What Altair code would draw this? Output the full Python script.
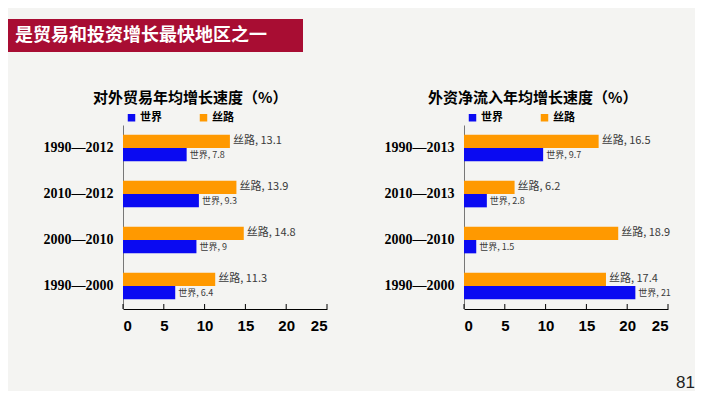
import altair as alt
import pandas as pd

# ---------------- data ----------------
banner_text = ["是贸易和投资增长最快地区之一"]
page_number = ["81"]
series = ["世界", "丝路"]
series_colors = ["#0a0af2", "#ff9900"]
x_ticks = [0, 5, 10, 15, 20, 25]

trade_title = ["对外贸易年均增长速度（%）"]
trade_periods = ["1990—2012", "2010—2012", "2000—2010", "1990—2000"]
trade_silk = [13.1, 13.9, 14.8, 11.3]
trade_world = [7.8, 9.3, 9, 6.4]

fdi_title = ["外资净流入年均增长速度（%）"]
fdi_periods = ["1990—2013", "2010—2013", "2000—2010", "1990—2000"]
fdi_silk = [16.5, 6.2, 18.9, 17.4]
fdi_world = [9.7, 2.8, 1.5, 21]

CJK = "Noto Sans CJK SC"
W, H = 204, 184

x_axis = alt.Axis(
    values=x_ticks,
    title=None,
    grid=False,
    ticks=False,
    labelFont="Liberation Sans",
    labelFontSize=15,
    labelFontWeight="bold",
    labelColor="#000000",
    labelPadding=9,
    domainColor="#000000",
)
x_scale = alt.Scale(domain=[0, 25], nice=False)


def panel(periods, silk, world, title, title_dx, title_size, min_ext, extra=()):
    rows = []
    for p, s, w in zip(periods, silk, world):
        rows.append({"period": p, "series": series[1], "value": s, "label": f"{series[1]}, {s:g}"})
        rows.append({"period": p, "series": series[0], "value": w, "label": f"{series[0]}, {w:g}"})
    df = pd.DataFrame(rows)

    base = alt.Chart(df).encode(
        y=alt.Y(
            "period:N",
            sort=periods,
            scale=alt.Scale(paddingInner=0.42, paddingOuter=0.21),
            axis=alt.Axis(
                title=None,
                labelFont="Liberation Serif",
                labelFontSize=14,
                labelFontWeight="bold",
                labelColor="#000000",
                ticks=False,
                domainColor="#777777",
                labelPadding=10,
                minExtent=min_ext,
            ),
        ),
        yOffset=alt.YOffset("series:N", sort=[series[1], series[0]]),
        x=alt.X("value:Q", scale=x_scale, axis=x_axis),
    )

    bars = base.mark_bar().encode(
        color=alt.Color(
            "series:N",
            scale=alt.Scale(domain=series, range=series_colors),
            legend=alt.Legend(
                title=None,
                orient="none",
                legendX=3,
                legendY=-13,
                direction="horizontal",
                symbolType="square",
                symbolSize=56,
                symbolStrokeWidth=0,
                labelFont=CJK,
                labelFontSize=11,
                labelFontWeight="bold",
                labelColor="#000000",
                labelOffset=3,
                columnPadding=36,
            ),
        )
    )

    silk_lbl = base.transform_filter(alt.datum.series == series[1]).mark_text(
        align="left", baseline="middle", dx=3, font=CJK, fontSize=11, color="#3a3a3a"
    ).encode(text="label:N")
    world_lbl = base.transform_filter(alt.datum.series == series[0]).mark_text(
        align="left", baseline="middle", dx=3, font=CJK, fontSize=9, color="#3a3a3a"
    ).encode(text="label:N")

    ticks = alt.Chart(pd.DataFrame({"t": x_ticks})).mark_rule(color="#000000").encode(
        x=alt.X("t:Q", scale=x_scale, axis=x_axis),
        y=alt.value(H - 5),
        y2=alt.value(H),
    )

    ttl = alt.Chart(pd.DataFrame({"t": title})).mark_text(
        align="left", baseline="middle", font=CJK, fontSize=title_size, fontWeight="bold", color="#000000"
    ).encode(text="t:N", x=alt.value(title_dx), y=alt.value(-27))

    return alt.layer(bars, silk_lbl, world_lbl, ticks, ttl, *extra).properties(width=W, height=H)


banner_df = pd.DataFrame({"t": banner_text})
banner_rect = alt.Chart(banner_df).mark_rect(color="#a80d33").encode(
    x=alt.value(-115), x2=alt.value(180), y=alt.value(-106), y2=alt.value(-73)
)
banner_txt = alt.Chart(banner_df).mark_text(
    align="left", baseline="middle", font=CJK, fontSize=18, fontWeight="bold", color="#ffffff"
).encode(text="t:N", x=alt.value(-108), y=alt.value(-89))

page_num = alt.Chart(pd.DataFrame({"p": page_number})).mark_text(
    align="right", baseline="middle", font="Liberation Sans", fontSize=17, color="#222222"
).encode(text="p:N", x=alt.value(231), y=alt.value(258))

left = panel(trade_periods, trade_silk, trade_world, trade_title, -30, 15, 80,
             extra=(banner_rect, banner_txt))
right = panel(fdi_periods, fdi_silk, fdi_world, fdi_title, -36, 15, 85, extra=(page_num,))

chart = alt.hconcat(left, right, spacing=51).resolve_scale(
    color="independent", x="independent", y="independent"
).properties(
    padding={"left": 0, "top": 11, "right": 0, "bottom": 0}, background="#f4f4f2"
).configure_view(strokeWidth=0)

chart.save("out.html", embed_options={"renderer": "svg", "actions": False})
